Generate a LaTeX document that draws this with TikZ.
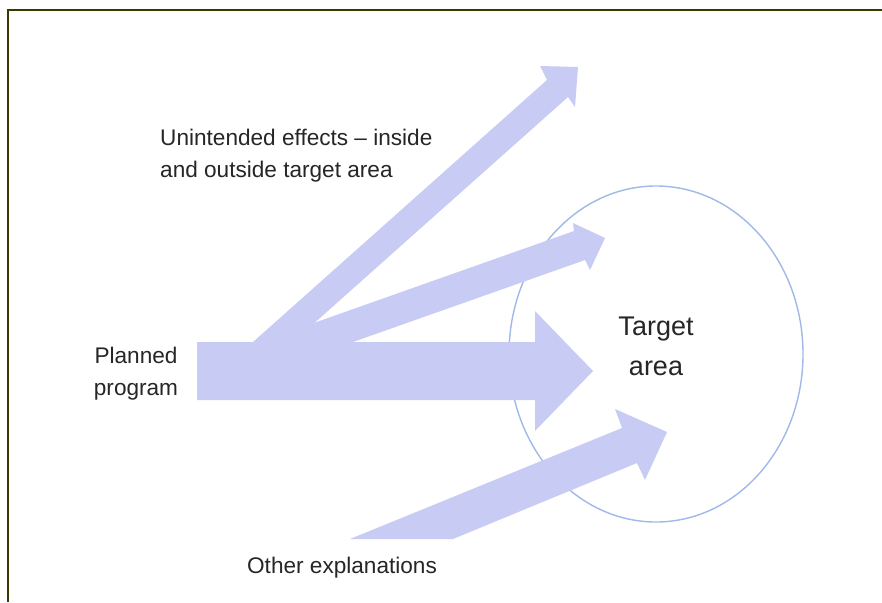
\documentclass[tikz,border=0pt]{standalone}
\usepackage{fontspec}
\setmainfont{Liberation Sans}
\usetikzlibrary{shapes.geometric}
\definecolor{arrowfill}{RGB}{200,204,244}
\definecolor{ringline}{RGB}{160,185,232}
\definecolor{framecol}{RGB}{58,58,0}
\begin{document}
\begin{tikzpicture}[x=1pt,y=-1pt,
  blockarrow/.style={fill=arrowfill},
  lbl/.style={inner sep=0pt, anchor=base west, text=black!85, font=\fontsize{22.6}{28}\selectfont},
  lblc/.style={lbl, anchor=base},
  big/.style={lblc, font=\fontsize{27}{32}\selectfont},
]
\useasboundingbox (0,0) rectangle (882,602);
\fill[white] (0,0) rectangle (882,602);
% frame
\draw[framecol, line width=2pt] (8,602) -- (8,10) -- (882,10);

% target area ring
\node[ellipse, draw=ringline, line width=1.4pt, inner sep=0pt,
      minimum width=294pt, minimum height=336pt] (ring) at (656,354) {};

% unintended effects arrow
\fill[blockarrow] (253,342) -- (547,80) -- (540,66) -- (578,67) -- (575,107)
  -- (568,97) -- (293,342) -- cycle;
% arrow into upper part of target
\fill[blockarrow] (260,342) -- (574,231) -- (573,223) -- (605,238) -- (590,270)
  -- (585,260) -- (353,342) -- cycle;
% planned program arrow
\fill[blockarrow] (197,342) -- (535,342) -- (535,311) -- (593,371) -- (535,431)
  -- (535,400) -- (197,400) -- cycle;
% other explanations arrow
\fill[blockarrow] (350,539) -- (622,428) -- (615,409) -- (667,432) -- (645,480)
  -- (637,463) -- (453,539) -- cycle;

% labels
\node[lbl] (ue1) at (160,145) {Unintended effects – inside};
\node[lbl] (ue2) at (160,177) {and outside target area};
\node[lblc] (pp1) at (136,363) {Planned};
\node[lblc] (pp2) at (136,395) {program};
\node[big] (ta1) at (656,335) {Target};
\node[big] (ta2) at (656,375) {area};
\node[lblc] (oe) at (342,573) {Other explanations};
\end{tikzpicture}
\end{document}
